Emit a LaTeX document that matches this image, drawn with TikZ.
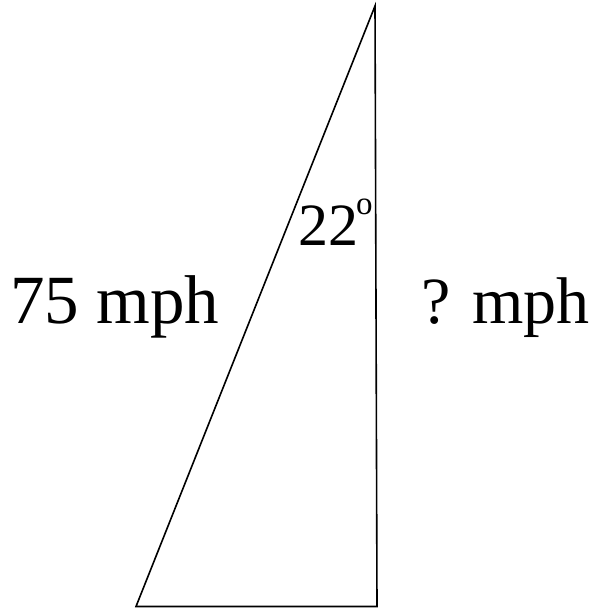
\documentclass[tikz,border=0pt]{standalone}
\usepackage{fontspec}
\setmainfont{Liberation Serif}
\begin{document}
\begin{tikzpicture}[x=1pt,y=-1pt,
  edge/.style={draw=black,line width=1.6pt,line join=miter},
  big/.style={inner sep=0pt,anchor=base west,font=\fontsize{69}{69}\selectfont},
  ang/.style={inner sep=0pt,anchor=base west,font=\fontsize{60}{60}\selectfont},
  degsym/.style={inner sep=0pt,anchor=base west,font=\fontsize{33}{33}\selectfont}]
\useasboundingbox (0,0) rectangle (597,609);
\coordinate (T) at (375,6);
\coordinate (BL) at (136,606.5);
\coordinate (BR) at (377,606.5);
\draw[edge] (T) -- (BL) -- (BR) -- cycle;
\node[big] (speed) at (10,323) {75 mph};
\node[big,font=\fontsize{66}{66}\selectfont] (unknown) at (421,323) {? mph};
\node[ang] (angle) at (298,245) {22};
\node[degsym] (deg) at (356,215) {o};
\end{tikzpicture}
\end{document}
